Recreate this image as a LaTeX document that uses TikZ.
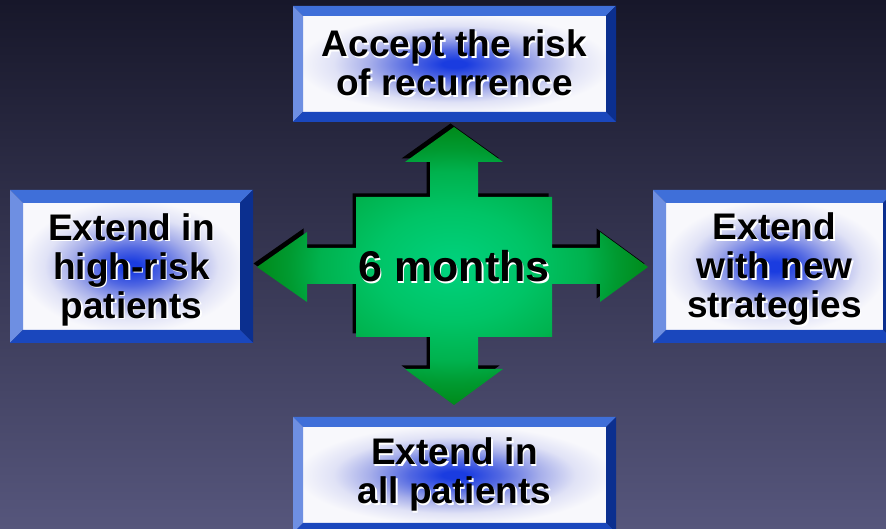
\documentclass[tikz,border=0pt]{standalone}
\usepackage{fontspec}
\setmainfont{Liberation Sans}

\definecolor{bgtop}{HTML}{17172A}
\definecolor{bgbot}{HTML}{56567C}
\definecolor{bevtop}{HTML}{3F6FD9}
\definecolor{bevleft}{HTML}{6E8FE2}
\definecolor{bevright}{HTML}{0B2F8F}
\definecolor{bevbot}{HTML}{1A47BD}
\definecolor{glowC}{HTML}{1A3CE0}
\definecolor{glowM}{HTML}{5268E2}
\definecolor{glowL}{HTML}{A6AEEA}
\definecolor{glowS}{HTML}{E0E2F6}
\definecolor{glowE}{HTML}{F8F8FC}
\definecolor{grC}{HTML}{00D27E}
\definecolor{grM}{HTML}{00C466}
\definecolor{grL}{HTML}{00B24E}
\definecolor{grD}{HTML}{009A30}
\definecolor{grO}{HTML}{008A1A}

\pgfdeclareradialshading{boxglow}{\pgfpoint{0bp}{0bp}}{color(0bp)=(glowC); color(2bp)=(glowC); color(7.5bp)=(glowM); color(14bp)=(glowL); color(20bp)=(glowS); color(26bp)=(glowE); color(50bp)=(glowE)}
\pgfdeclareradialshading{greenglow}{\pgfpoint{0bp}{0bp}}{color(0bp)=(grC); color(10bp)=(grM); color(17bp)=(grL); color(21bp)=(grD); color(25bp)=(grO); color(50bp)=(grO)}

\tikzset{
  boxtext/.style={align=center, inner sep=0pt, font=\fontsize{37}{39}\selectfont\bfseries},
  monthtext/.style={inner sep=0pt, font=\fontsize{43}{45}\selectfont\bfseries},
}

\begin{document}
\begin{tikzpicture}[x=1pt,y=1pt]
  \useasboundingbox (0,0) rectangle (886,529);
  \clip (0,0) rectangle (886,529);
  \shade[top color=bgtop, bottom color=bgbot] (0,0) rectangle (886,529);

  \foreach \nm/\cx/\cy/\w/\h/\b/\ty/\txt in {
    accept/454.5/465/323/116/10/466/{Accept the risk\\of recurrence},
    highrisk/131.5/262.5/243/153/13/259.5/{Extend in\\high-risk\\patients},
    newstrat/774.5/262.5/243/153/13/259.5/{Extend\\with new\\strategies},
    allpat/454.5/54/323/116/10/54.5/{Extend in\\all patients}}
  {
    \pgfmathsetmacro\xa{\cx-\w/2}
    \pgfmathsetmacro\xb{\cx+\w/2}
    \pgfmathsetmacro\ya{\cy-\h/2}
    \pgfmathsetmacro\yb{\cy+\h/2}
    \shade[shading=boxglow] (\xa+\b,\ya+\b) rectangle (\xb-\b,\yb-\b);
    \fill[bevtop] (\xa,\yb) -- (\xb,\yb) -- (\xb-\b,\yb-\b) -- (\xa+\b,\yb-\b) -- cycle;
    \fill[bevleft] (\xa,\yb) -- (\xa+\b,\yb-\b) -- (\xa+\b,\ya+\b) -- (\xa,\ya) -- cycle;
    \fill[bevright] (\xb,\yb) -- (\xb,\ya) -- (\xb-\b,\ya+\b) -- (\xb-\b,\yb-\b) -- cycle;
    \fill[bevbot] (\xa,\ya) -- (\xa+\b,\ya+\b) -- (\xb-\b,\ya+\b) -- (\xb,\ya) -- cycle;
    \node[boxtext, white] at (\cx+1.5,\ty-1.5) {\txt};
    \node[boxtext] (\nm) at (\cx,\ty) {\txt};
  }

  \shade[shading=greenglow,
         preaction={fill=black, transform canvas={shift={(-3.5pt,3.5pt)}}}]
    (454,402) -- (503,367) -- (478,367) -- (478,332) -- (552,332) -- (552,281)
    -- (600,281) -- (600,297) -- (648,262) -- (600,227) -- (600,245) -- (552,245)
    -- (552,192) -- (478,192) -- (478,160) -- (503,160) -- (454,124) -- (405,160)
    -- (430,160) -- (430,192) -- (356,192) -- (356,245) -- (307,245) -- (307,227)
    -- (257,262) -- (307,297) -- (307,281) -- (356,281) -- (356,332) -- (430,332)
    -- (430,367) -- (405,367) -- cycle;

  \node[monthtext, white] at (455.5,261) {6 months};
  \node[monthtext] (months) at (454,262.5) {6 months};
\end{tikzpicture}
\end{document}
